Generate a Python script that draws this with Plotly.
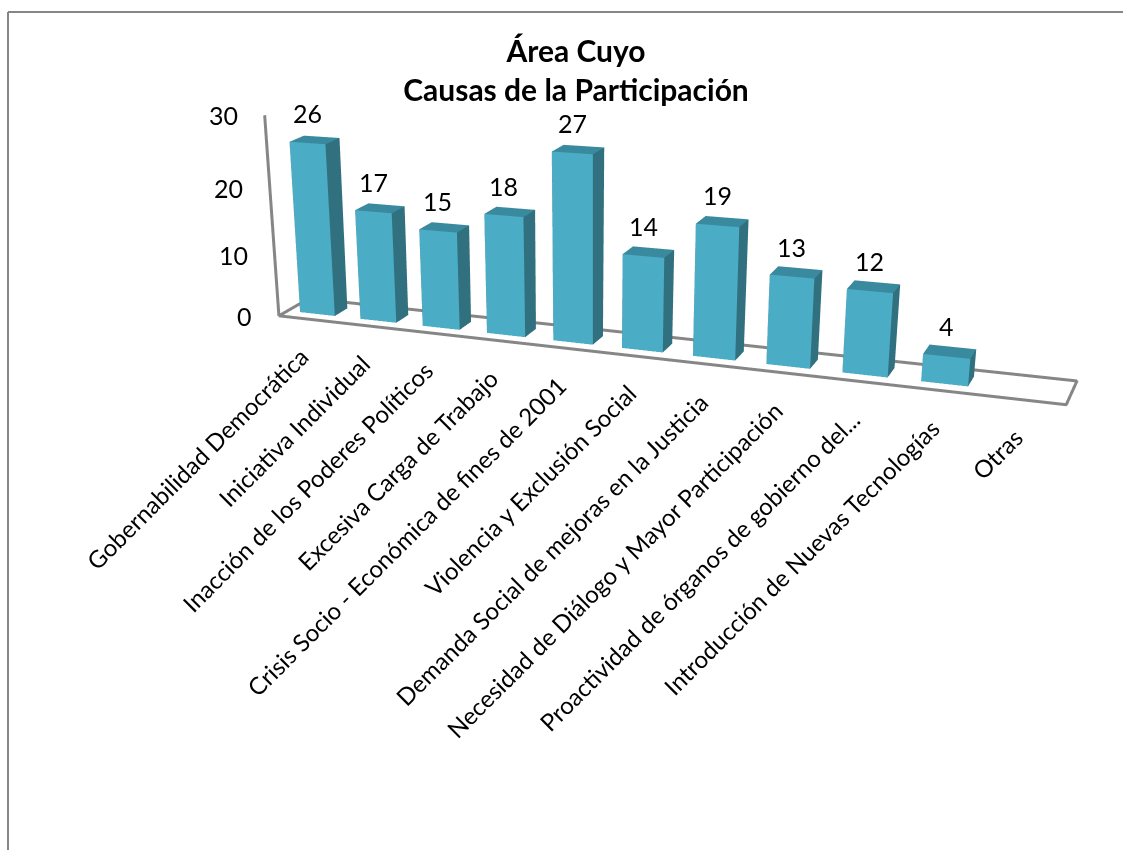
import plotly.graph_objects as go

categories = ["Gobernabilidad Democrática", "Iniciativa Individual", "Inacción de los Poderes Políticos",
              "Excesiva Carga de Trabajo", "Crisis Socio - Económica de fines de 2001",
              "Violencia y Exclusión Social", "Demanda Social de mejoras en la Justicia",
              "Necesidad de Diálogo y Mayor Participación", "Proactividad de órganos de gobierno del...",
              "Introducción de Nuevas Tecnologías", "Otras"]
values = [26, 17, 15, 18, 27, 14, 19, 13, 12, 4, None]
z_ticks = [0, 10, 20, 30]

# Scene geometry (camera fitted to the reference's 3D column look)
bar_width, bar_inset = 0.5792, 0.285641
depth_skew, top_spread = 0.193052, -0.002765
FONT = "Lato"
C_FRONT, C_SIDE, C_TOP, C_AXIS = "#4BACC6", "#31707F", "#3A8A9F", "#868686"


def wx(x, y, z):
    return x + depth_skew * y + top_spread * z * (x - 5.5)


X, Y, Z, I, J, K, FC = [], [], [], [], [], [], []
for idx, v in enumerate(values):
    if v is None:
        continue
    n = len(X)
    x0, x1 = idx + .5 - bar_width / 2, idx + .5 + bar_width / 2
    y0, y1 = bar_inset, 1 - bar_inset
    for z in (0, v):
        X += [wx(x0, y0, z), wx(x1, y0, z), wx(x1, y1, z), wx(x0, y1, z)]
        Y += [y0, y0, y1, y1]
        Z += [z, z, z, z]
    faces = [(0, 1, 5, C_FRONT), (0, 5, 4, C_FRONT), (1, 2, 6, C_SIDE), (1, 6, 5, C_SIDE),
             (4, 5, 6, C_TOP), (4, 6, 7, C_TOP), (0, 3, 7, C_SIDE), (0, 7, 4, C_SIDE),
             (3, 2, 6, C_SIDE), (3, 6, 7, C_SIDE)]
    for a, b, c, col in faces:
        I.append(n + a); J.append(n + b); K.append(n + c); FC.append(col)

fig = go.Figure()
fig.add_trace(go.Mesh3d(x=X, y=Y, z=Z, i=I, j=J, k=K, facecolor=FC, flatshading=True, hoverinfo="skip",
                        lighting=dict(ambient=1, diffuse=0, specular=0, fresnel=0, roughness=1)))
n_cat = len(categories)
fig.add_trace(go.Scatter3d(x=[depth_skew, 0, n_cat, n_cat + depth_skew, depth_skew, 0], y=[1, 0, 0, 1, 1, 0], z=[0] * 6,
                           mode="lines", line=dict(color=C_AXIS, width=6), hoverinfo="skip"))
fig.add_trace(go.Scatter3d(x=[wx(0, 0, 0), wx(0, 0, 30)], y=[0, 0], z=[0, 30],
                           mode="lines", line=dict(color=C_AXIS, width=6), hoverinfo="skip"))

text_font = dict(family=FONT, size=24, color="black")
num_font = dict(family=FONT, size=25, color="black")
ann = []
for idx, (cat, v) in enumerate(zip(categories, values)):
    ann.append(dict(x=idx + .5, y=0, z=0, text=cat, showarrow=False, textangle=-45, xanchor="right", yanchor="top",
                    xshift=8, yshift=-20, font=text_font))
    if v is not None:
        ann.append(dict(x=wx(idx + .5, bar_inset, v), y=bar_inset, z=v, text=str(v), showarrow=False, xanchor="center",
                        yanchor="middle", yshift=30, font=num_font))
for t in z_ticks:
    ann.append(dict(x=wx(0, 0, t), y=0, z=t, text=str(t), showarrow=False, xanchor="right", yanchor="middle",
                    xshift=-25, yshift=0, font=num_font))

fig.update_layout(
    width=1123, height=850, margin=dict(l=0, r=0, t=0, b=0), paper_bgcolor="white", showlegend=False,
    title=dict(text="<b>Área Cuyo<br>Causas de la Participación</b>", x=576 / 1123, xanchor="center",
               y=1 - 62 / 850, yanchor="top", font=dict(family=FONT, size=30, color="black")),
    scene=dict(domain=dict(x=[0, 1], y=[0, 1]),
               xaxis=dict(visible=False, range=[-1, 12]), yaxis=dict(visible=False, range=[0, 1]),
               zaxis=dict(visible=False, range=[0, 30]),
               aspectmode="manual", aspectratio=dict(x=2 * 13 / 11, y=0.1102, z=0.5601),
               camera=dict(eye=dict(x=0.4627, y=-2.2183, z=1.0641), center=dict(x=-0.2198, y=0, z=-0.5633),
                           up=dict(x=0.0204, y=0.0603, z=1), projection=dict(type="perspective")),
               annotations=ann),
    shapes=[dict(type="line", xref="paper", yref="paper", x0=8 / 1123, x1=1, y0=1 - 12 / 850, y1=1 - 12 / 850,
                 line=dict(color=C_AXIS, width=2)),
            dict(type="line", xref="paper", yref="paper", x0=8 / 1123, x1=8 / 1123, y0=1 - 12 / 850, y1=0,
                 line=dict(color=C_AXIS, width=2))],
)
fig.write_html("out.html", post_script="document.body.style.margin='0';", config=dict(displayModeBar=False))
